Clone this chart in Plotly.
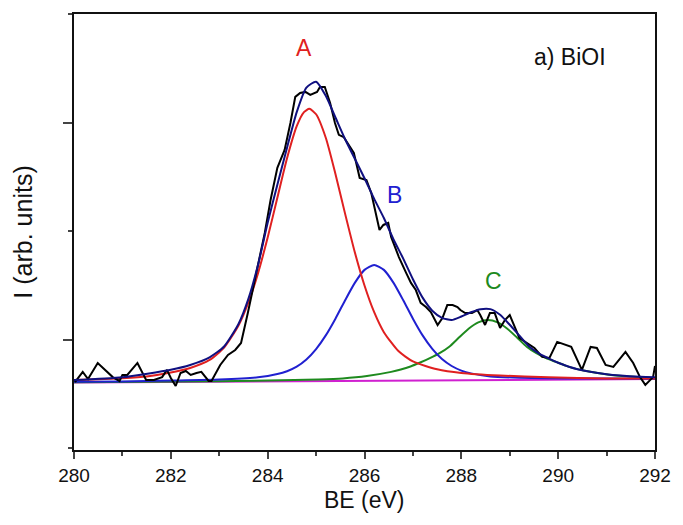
import plotly.graph_objects as go

# Raw spectrum (black)
raw_x = [280.02, 280.18, 280.29, 280.49, 280.80, 280.94, 281.00, 281.10, 281.31, 281.49,
         281.65, 281.82, 281.92, 282.00, 282.10, 282.20, 282.31, 282.41, 282.53, 282.63,
         282.78, 282.84, 283.02, 283.18, 283.33, 283.45, 283.59, 283.80, 283.94, 284.06,
         284.20, 284.35, 284.47, 284.57, 284.67, 284.78, 284.88, 285.02, 285.08, 285.18,
         285.29, 285.39, 285.47, 285.57, 285.67, 285.78, 285.90, 286.04, 286.14, 286.31,
         286.39, 286.49, 286.55, 286.71, 286.86, 286.96, 287.06, 287.16, 287.27, 287.37,
         287.51, 287.61, 287.71, 287.82, 287.92, 287.98, 288.08, 288.22, 288.33, 288.39,
         288.49, 288.59, 288.69, 288.80, 288.90, 289.00, 289.20, 289.35, 289.51, 289.67,
         289.82, 289.98, 290.27, 290.49, 290.67, 290.80, 290.98, 291.14, 291.39, 291.55,
         291.69, 291.80, 291.96, 292.00]
raw_y = [-0.194, -0.147, -0.180, -0.106, -0.171, -0.189, -0.161, -0.161, -0.106, -0.184,
         -0.184, -0.171, -0.138, -0.175, -0.212, -0.152, -0.143, -0.161, -0.152, -0.147,
         -0.189, -0.189, -0.115, -0.069, -0.046, -0.014, 0.124, 0.355, 0.493, 0.645,
         0.793, 0.876, 1.000, 1.120, 1.138, 1.143, 1.129, 1.143, 1.166, 1.166,
         1.092, 1.000, 0.945, 0.935, 0.899, 0.862, 0.747, 0.737, 0.677, 0.507,
         0.530, 0.539, 0.475, 0.382, 0.309, 0.263, 0.230, 0.171, 0.152, 0.129,
         0.069, 0.101, 0.161, 0.161, 0.152, 0.138, 0.124, 0.124, 0.138, 0.115,
         0.069, 0.124, 0.124, 0.055, 0.092, 0.115, 0.009, -0.014, -0.037, -0.078,
         -0.083, -0.009, -0.032, -0.138, -0.032, -0.037, -0.115, -0.124, -0.055, -0.106,
         -0.171, -0.207, -0.171, -0.120]

# Component A (red)
a_x = [280.0, 280.5, 281.0, 281.5, 282.0, 282.4, 282.8, 283.1, 283.4, 283.6, 283.8, 284.0,
       284.2, 284.4, 284.6, 284.75, 284.86, 285.0, 285.2, 285.4, 285.6, 285.8, 286.0, 286.2,
       286.4, 286.7, 287.0, 287.5, 288.0, 288.8, 289.8, 291.0, 292.0]
a_y = [-0.184, -0.181, -0.176, -0.168, -0.150, -0.129, -0.092, -0.035, 0.068, 0.172, 0.307, 0.472,
       0.655, 0.837, 0.985, 1.050, 1.065, 1.040, 0.932, 0.765, 0.581, 0.404, 0.251, 0.128,
       0.036, -0.051, -0.099, -0.135, -0.152, -0.164, -0.172, -0.177, -0.178]

# Component B (blue)
b_x = [280.0, 281.0, 282.0, 283.0, 283.8, 284.2, 284.4, 284.6, 284.8, 285.0, 285.2, 285.4,
       285.6, 285.8, 286.0, 286.2, 286.4, 286.6, 286.8, 287.0, 287.2, 287.4, 287.6, 287.8,
       288.0, 288.2, 288.6, 289.2, 290.2, 291.2, 292.0]
b_y = [-0.193, -0.191, -0.187, -0.182, -0.172, -0.157, -0.144, -0.123, -0.090, -0.042, 0.021, 0.098,
       0.183, 0.263, 0.323, 0.346, 0.323, 0.263, 0.183, 0.098, 0.021, -0.041, -0.088, -0.120,
       -0.141, -0.154, -0.168, -0.174, -0.177, -0.178, -0.179]

# Component C (green)
c_x = [280.0, 283.0, 284.55, 285.05, 285.55, 286.05, 286.55, 286.75, 286.95, 287.15, 287.35, 287.55,
       287.75, 287.95, 288.15, 288.35, 288.55, 288.75, 288.95, 289.15, 289.35, 289.55, 289.75, 289.95,
       290.15, 290.35, 290.55, 291.05, 291.55, 292.0]
c_y = [-0.195, -0.190, -0.185, -0.182, -0.177, -0.166, -0.147, -0.136, -0.122, -0.104, -0.084, -0.061,
       -0.031, 0.011, 0.052, 0.081, 0.092, 0.081, 0.052, 0.011, -0.031, -0.061, -0.084, -0.101,
       -0.118, -0.132, -0.142, -0.160, -0.170, -0.176]

# Envelope (navy)
env_x = [280.0, 281.0, 282.0, 282.4, 282.8, 283.1, 283.4, 283.6, 283.8, 284.0, 284.2, 284.4,
         284.6, 284.8, 285.0, 285.2, 285.4, 285.6, 285.8, 286.0, 286.2, 286.4, 286.6, 286.8,
         287.0, 287.2, 287.4, 287.6, 287.8, 288.0, 288.2, 288.4, 288.6, 288.8, 289.0, 289.2,
         289.4, 289.6, 289.8, 290.0, 290.4, 291.0, 291.7, 292.0]
env_y = [-0.185, -0.172, -0.137, -0.115, -0.080, -0.030, 0.075, 0.188, 0.345, 0.540, 0.715, 0.886,
         1.050, 1.163, 1.190, 1.125, 1.025, 0.925, 0.835, 0.745, 0.650, 0.562, 0.463, 0.375,
         0.280, 0.195, 0.135, 0.102, 0.092, 0.108, 0.128, 0.142, 0.142, 0.116, 0.070, 0.020,
         -0.030, -0.062, -0.085, -0.105, -0.135, -0.158, -0.170, -0.172]

# Baseline (magenta)
base_x = [280.0, 292.0]
base_y = [-0.196, -0.180]

labels = ["A", "B", "C", "a) BiOI"]
label_x = [284.75, 286.62, 288.67, 290.25]
label_y = [1.346, 0.668, 0.272, 1.304]
label_colors = ["#e02020", "#2020d0", "#1e8a1e", "#111111"]

x_ticks = [280, 282, 284, 286, 288, 290, 292]

fig = go.Figure()
fig.add_trace(go.Scatter(x=base_x, y=base_y, mode="lines", line=dict(color="#d020d0", width=2)))
fig.add_trace(go.Scatter(x=c_x, y=c_y, mode="lines", line=dict(color="#1e8a1e", width=2, shape="spline", smoothing=0.6)))
fig.add_trace(go.Scatter(x=b_x, y=b_y, mode="lines", line=dict(color="#2020d0", width=2, shape="spline", smoothing=0.6)))
fig.add_trace(go.Scatter(x=a_x, y=a_y, mode="lines", line=dict(color="#e02020", width=2, shape="spline", smoothing=0.6)))
fig.add_trace(go.Scatter(x=raw_x, y=raw_y, mode="lines", line=dict(color="#000000", width=2)))
fig.add_trace(go.Scatter(x=env_x, y=env_y, mode="lines", line=dict(color="#101080", width=2, shape="spline", smoothing=0.6)))

for t, xx, yy, cc in zip(labels, label_x, label_y, label_colors):
    fig.add_annotation(x=xx, y=yy, text=t, showarrow=False, xanchor="center", yanchor="middle",
                       font=dict(size=23, color=cc))

fig.add_annotation(xref="paper", yref="paper", x=0.5, y=-0.1147, text="BE (eV)", showarrow=False,
                   xanchor="center", yanchor="middle", font=dict(size=23, color="#111111"))
fig.add_annotation(xref="paper", yref="paper", x=-0.0884, y=0.5, text="I (arb. units)", showarrow=False,
                   textangle=-90, xanchor="center", yanchor="middle", font=dict(size=25, color="#111111"))

fig.update_layout(
    width=683, height=525,
    margin=dict(l=74, r=21, t=14, b=75),
    paper_bgcolor="white", plot_bgcolor="white",
    showlegend=False,
    font=dict(family="Liberation Sans, Arial, sans-serif", color="#111111"),
    xaxis=dict(range=[280, 292], tickvals=x_ticks, ticks="outside", ticklen=7, tickwidth=2,
               showline=True, linecolor="#111111", linewidth=2, mirror=True, showgrid=False, zeroline=False,
               tickfont=dict(size=19, color="#111111"),
               minor=dict(ticks="outside", ticklen=4, tickwidth=2, dtick=1, tick0=280, showgrid=False)),
    yaxis=dict(range=[-0.507, 1.502], tickvals=[0, 1], ticks="outside", ticklen=9, tickwidth=2,
               showticklabels=False,
               showline=True, linecolor="#111111", linewidth=2, mirror=True, showgrid=False, zeroline=False,
               minor=dict(ticks="outside", ticklen=4, tickwidth=2, dtick=0.5, tick0=0, showgrid=False)),
)

fig.write_html("out.html")
